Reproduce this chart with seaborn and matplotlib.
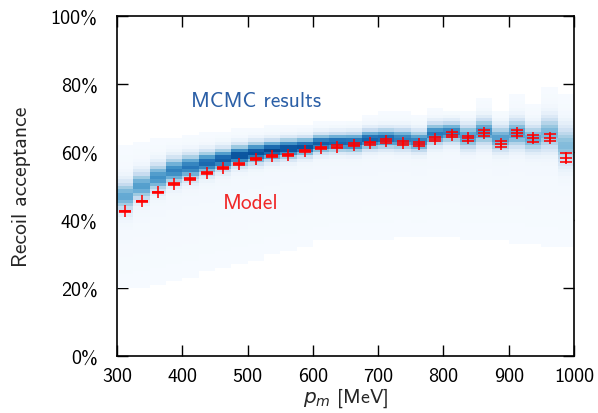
import numpy as np
import pandas as pd
import seaborn as sns
import matplotlib.pyplot as plt
from matplotlib.ticker import PercentFormatter, MultipleLocator

# bin centres of p_m [MeV]
pm = [312.5, 337.5, 362.5, 387.5, 412.5, 437.5, 462.5, 487.5, 512.5, 537.5,
      562.5, 587.5, 612.5, 637.5, 662.5, 687.5, 712.5, 737.5, 762.5, 787.5,
      812.5, 837.5, 862.5, 887.5, 912.5, 937.5, 962.5, 987.5]

# model acceptance [%] and its uncertainty
model = [42.5, 45.5, 48.1, 50.6, 52.1, 53.9, 55.2, 56.5, 57.9, 58.9,
         59.2, 60.2, 61.2, 61.6, 62.1, 62.6, 63.2, 62.7, 62.4, 63.8,
         65.1, 64.0, 65.6, 62.3, 65.5, 64.0, 64.2, 58.3]
model_err = [0.2, 0.2, 0.2, 0.2, 0.25, 0.25, 0.25, 0.3, 0.3, 0.3,
             0.35, 0.35, 0.4, 0.4, 0.45, 0.45, 0.5, 0.55, 0.55, 0.6,
             0.7, 0.7, 0.8, 0.8, 0.9, 1.0, 1.1, 1.3]

# MCMC posterior per column: peak position, core width, peak shade,
# extent of the faint tail (all read off the picture)
mc_peak = [47.0, 50.0, 52.5, 54.5, 55.6, 56.8, 57.8, 59.0, 59.8, 60.5,
           61.0, 61.5, 62.5, 62.8, 62.8, 63.7, 64.0, 63.8, 63.2, 65.3,
           65.8, 64.5, 66.0, 64.0, 65.5, 64.0, 65.5, 62.0]
mc_width = [2.8, 2.6, 2.5, 2.4, 2.3, 2.1, 2.0, 1.9, 1.9, 1.8,
            1.8, 1.7, 1.7, 1.7, 1.8, 1.8, 1.8, 1.9, 1.9, 2.0,
            1.9, 2.2, 2.4, 2.3, 2.6, 2.4, 3.1, 3.5]
mc_shade = [0.50, 0.55, 0.60, 0.66, 0.70, 0.76, 0.80, 0.86, 0.86, 0.88,
            0.86, 0.84, 0.80, 0.78, 0.76, 0.78, 0.76, 0.68, 0.66, 0.70,
            0.68, 0.58, 0.60, 0.55, 0.55, 0.50, 0.45, 0.42]
mc_low = [20.0, 20.5, 20.6, 21.8, 23.0, 24.7, 25.6, 27.0, 28.5, 30.0,
          31.5, 32.4, 33.8, 34.0, 34.0, 34.4, 34.5, 35.0, 35.0, 35.0,
          35.0, 34.5, 34.0, 34.0, 33.5, 33.0, 32.4, 32.4]
mc_high = [61.5, 63.0, 64.0, 64.4, 65.0, 65.5, 66.0, 66.5, 67.0, 67.5,
           67.5, 68.0, 68.5, 68.5, 69.0, 71.0, 71.8, 71.5, 71.0, 73.0,
           71.5, 72.0, 76.0, 72.0, 77.0, 74.0, 79.0, 76.5]

x_edges = np.arange(300, 1001, 25)
y_edges = np.arange(0, 101, 1.0)
y_mid = 0.5 * (y_edges[1:] + y_edges[:-1])

rows = []
for i in range(len(pm)):
    c, s, a = mc_peak[i], mc_width[i], mc_shade[i]
    lo, hi = mc_low[i], mc_high[i]
    for y in y_mid:
        if y < lo or y > hi:
            continue
        if y <= c:
            tail = 0.004 + 0.024 * (y - lo) / (c - lo)
        else:
            tail = 0.025 - 0.021 * (y - c) / (hi - c)
        w = a * np.exp(-0.5 * ((y - c) / s) ** 2) + tail
        rows.append((pm[i], y, min(w, 0.95)))
df = pd.DataFrame(rows, columns=["pm", "acc", "w"])

sns.set_style("ticks")
plt.rcParams['font.family'] = ['cmss10', 'DejaVu Sans']
plt.rcParams['mathtext.fontset'] = 'custom'
plt.rcParams['mathtext.it'] = 'DejaVu Sans:italic'
plt.rcParams['mathtext.rm'] = 'cmss10'
plt.rcParams['axes.unicode_minus'] = False

fig = plt.figure(figsize=(5.98, 4.14), dpi=100)
ax = fig.add_axes([0.1957, 0.1377, 0.7642, 0.8213])

sns.histplot(data=df, x="pm", y="acc", weights="w", bins=[x_edges, y_edges],
             cmap="Blues", vmin=0, vmax=1, ax=ax)

ax.errorbar(pm, model, yerr=model_err, fmt='+', color='red', markersize=8,
            markeredgewidth=1.15, elinewidth=1.1, capsize=4, capthick=1.1)

ax.text(513, 75, "MCMC results", color='#2b5fa6', fontsize=15.5,
        ha='center', va='center')
ax.text(504, 45, "Model", color='#f02828', fontsize=15.5,
        ha='center', va='center')

ax.set_xlim(300, 1000)
ax.set_ylim(0, 100)
ax.xaxis.set_major_locator(MultipleLocator(100))
ax.yaxis.set_major_locator(MultipleLocator(20))
ax.yaxis.set_major_formatter(PercentFormatter(100, decimals=0))
ax.tick_params(direction='in', length=8, width=1, top=True, right=True,
               labelsize=14.5, colors='black')
ax.tick_params(axis='x', pad=8)
ax.tick_params(axis='y', pad=14)
for sp in ax.spines.values():
    sp.set_linewidth(1.2)
    sp.set_color('black')
ax.set_xlabel("$p_m$ [MeV]", fontsize=14.5, labelpad=0)
ax.set_ylabel("Recoil acceptance", fontsize=15.5, labelpad=14)

fig.savefig("out.png", dpi=100)
